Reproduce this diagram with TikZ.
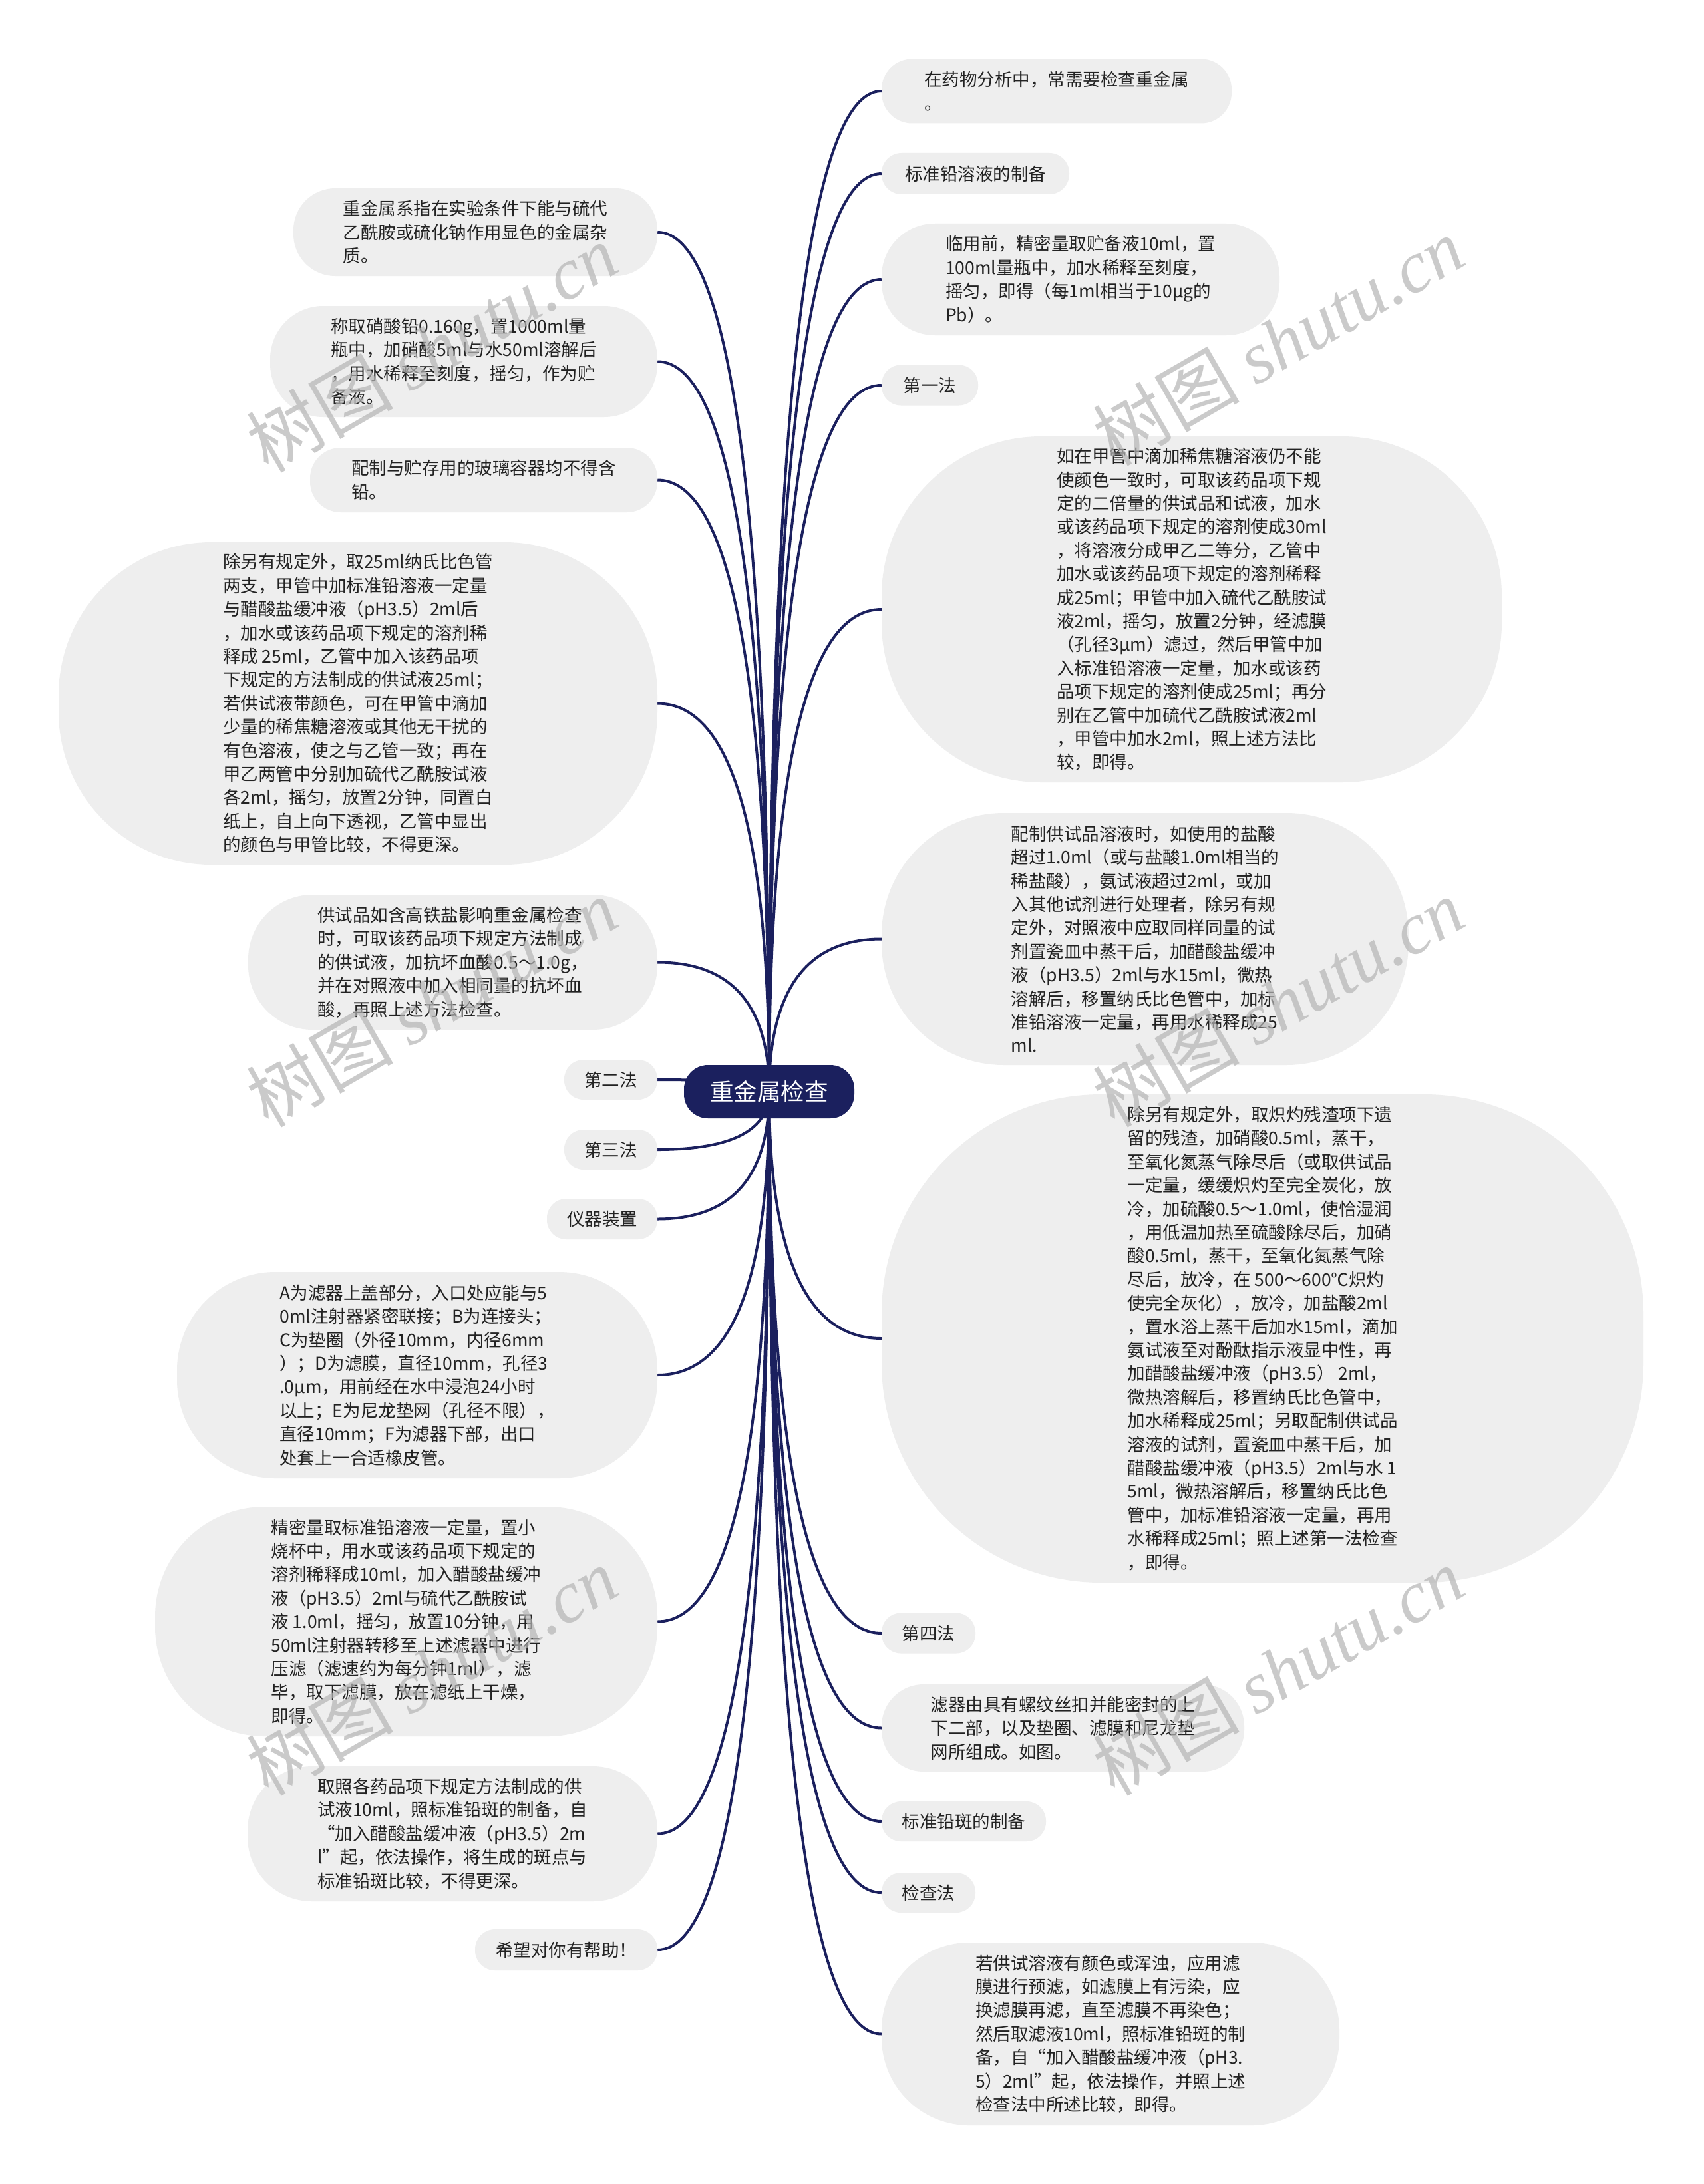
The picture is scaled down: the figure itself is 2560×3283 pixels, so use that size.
\documentclass[tikz,border=0pt]{standalone}
\usepackage{fontspec}
\setmainfont{Noto Sans CJK SC}
\newfontfamily\wmserif{Liberation Serif}
\usetikzlibrary{calc}
\definecolor{navy}{HTML}{1B205E}
\definecolor{nodegray}{HTML}{EEEEEE}
\definecolor{txt}{HTML}{222222}
\definecolor{wmgray}{HTML}{B4B4B4}
\pgfdeclarelayer{bg}
\pgfsetlayers{bg,main}
\tikzset{
 box/.style={fill=nodegray, inner sep=0pt, align=left, text=txt, font=\fontsize{26.5}{35.4}\selectfont},
 rootbox/.style={fill=navy, inner sep=0pt, text=white, font=\fontsize{35.6}{40}\selectfont},
 conn/.style={draw=navy, line width=4pt},
 wm/.style={text=wmgray, opacity=0.7, rotate=30, inner sep=0pt, font=\fontsize{110}{120}\selectfont}
}
\newcommand\mmlink[2]{\draw[conn] (root.center) .. controls ($(root.center)!0.6667!(root.center|-#1.#2)$) and ($(#1.#2)!0.6667!(root.center|-#1.#2)$) .. (#1.#2);}
\begin{document}
\begin{tikzpicture}[x=1pt,y=-1pt]
\begin{pgfonlayer}{bg}
\path[fill=white] (0,0) rectangle (2560,3283);
\end{pgfonlayer}
\useasboundingbox (0,0) rectangle (2560,3283);

% root
\node[rootbox, minimum width=256pt, minimum height=80pt, rounded corners=36pt] (root) at (1156,1641) {重金属检查};

% right side
\node[box, minimum width=526pt, minimum height=97pt, rounded corners=46pt] (n1) at (1588,137) {在药物分析中，常需要检查重金属\\。};
\node[box, minimum width=282pt, minimum height=62pt, rounded corners=30pt] (n2) at (1466,261) {标准铅溶液的制备};
\node[box, minimum width=598pt, minimum height=168pt, rounded corners=80pt] (n3) at (1624,420) {临用前，精密量取贮备液10ml，置\\100ml量瓶中，加水稀释至刻度，\\摇匀，即得（每1ml相当于10μg的\\Pb）。};
\node[box, minimum width=145pt, minimum height=61pt, rounded corners=29pt] (n4) at (1397.5,579) {第一法};
\node[box, minimum width=932pt, minimum height=520pt, rounded corners=240pt] (n5) at (1791,916) {如在甲管中滴加稀焦糖溶液仍不能\\使颜色一致时，可取该药品项下规\\定的二倍量的供试品和试液，加水\\或该药品项下规定的溶剂使成30ml\\，将溶液分成甲乙二等分，乙管中\\加水或该药品项下规定的溶剂稀释\\成25ml；甲管中加入硫代乙酰胺试\\液2ml，摇匀，放置2分钟，经滤膜\\（孔径3μm）滤过，然后甲管中加\\入标准铅溶液一定量，加水或该药\\品项下规定的溶剂使成25ml；再分\\别在乙管中加硫代乙酰胺试液2ml\\，甲管中加水2ml，照上述方法比\\较，即得。};
\node[box, minimum width=792pt, minimum height=379pt, rounded corners=184pt] (n6) at (1721,1411.5) {配制供试品溶液时，如使用的盐酸\\超过1.0ml（或与盐酸1.0ml相当的\\稀盐酸），氨试液超过2ml，或加\\入其他试剂进行处理者，除另有规\\定外，对照液中应取同样同量的试\\剂置瓷皿中蒸干后，加醋酸盐缓冲\\液（pH3.5）2ml与水15ml，微热\\溶解后，移置纳氏比色管中，加标\\准铅溶液一定量，再用水稀释成25\\ml.};
\node[box, minimum width=1145pt, minimum height=734pt, rounded corners=330pt] (n7) at (1897.5,2012) {除另有规定外，取炽灼残渣项下遗\\留的残渣，加硝酸0.5ml，蒸干，\\至氧化氮蒸气除尽后（或取供试品\\一定量，缓缓炽灼至完全炭化，放\\冷，加硫酸0.5～1.0ml，使恰湿润\\，用低温加热至硫酸除尽后，加硝\\酸0.5ml，蒸干，至氧化氮蒸气除\\尽后，放冷，在 500～600℃炽灼\\使完全灰化），放冷，加盐酸2ml\\，置水浴上蒸干后加水15ml，滴加\\氨试液至对酚酞指示液显中性，再\\加醋酸盐缓冲液（pH3.5） 2ml，\\微热溶解后，移置纳氏比色管中，\\加水稀释成25ml；另取配制供试品\\溶液的试剂，置瓷皿中蒸干后，加\\醋酸盐缓冲液（pH3.5）2ml与水 1\\5ml，微热溶解后，移置纳氏比色\\管中，加标准铅溶液一定量，再用\\水稀释成25ml；照上述第一法检查\\，即得。};
\node[box, minimum width=141pt, minimum height=61pt, rounded corners=29pt] (n8) at (1395.5,2455) {第四法};
\node[box, minimum width=545pt, minimum height=131pt, rounded corners=63pt] (n9) at (1597.5,2597.5) {滤器由具有螺纹丝扣并能密封的上\\下二部，以及垫圈、滤膜和尼龙垫\\网所组成。如图。};
\node[box, minimum width=247pt, minimum height=60pt, rounded corners=29pt] (n10) at (1448.5,2738) {标准铅斑的制备};
\node[box, minimum width=141pt, minimum height=60pt, rounded corners=29pt] (n11) at (1395.5,2845) {检查法};
\node[box, minimum width=688pt, minimum height=275pt, rounded corners=132pt] (n12) at (1669,3057.5) {若供试溶液有颜色或浑浊，应用滤\\膜进行预滤，如滤膜上有污染，应\\换滤膜再滤，直至滤膜不再染色；\\然后取滤液10ml，照标准铅斑的制\\备，自“加入醋酸盐缓冲液（pH3.\\5）2ml”起，依法操作，并照上述\\检查法中所述比较，即得。};

% left side
\node[box, minimum width=547pt, minimum height=132pt, rounded corners=63pt] (a) at (714.5,349) {重金属系指在实验条件下能与硫代\\乙酰胺或硫化钠作用显色的金属杂\\质。};
\node[box, minimum width=582pt, minimum height=167pt, rounded corners=80pt] (b) at (697,543.5) {称取硝酸铅0.160g，置1000ml量\\瓶中，加硝酸5ml与水50ml溶解后\\，用水稀释至刻度，摇匀，作为贮\\备液。};
\node[box, minimum width=522pt, minimum height=97pt, rounded corners=46pt] (c) at (727,721.5) {配制与贮存用的玻璃容器均不得含\\铅。};
\node[box, minimum width=900pt, minimum height=485pt, rounded corners=230pt] (d) at (538,1057.5) {除另有规定外，取25ml纳氏比色管\\两支，甲管中加标准铅溶液一定量\\与醋酸盐缓冲液（pH3.5）2ml后\\，加水或该药品项下规定的溶剂稀\\释成 25ml，乙管中加入该药品项\\下规定的方法制成的供试液25ml；\\若供试液带颜色，可在甲管中滴加\\少量的稀焦糖溶液或其他无干扰的\\有色溶液，使之与乙管一致；再在\\甲乙两管中分别加硫代乙酰胺试液\\各2ml，摇匀，放置2分钟，同置白\\纸上，自上向下透视，乙管中显出\\的颜色与甲管比较，不得更深。};
\node[box, minimum width=615pt, minimum height=203pt, rounded corners=97pt] (e) at (680.5,1446.5) {供试品如含高铁盐影响重金属检查\\时，可取该药品项下规定方法制成\\的供试液，加抗坏血酸0.5～1.0g，\\并在对照液中加入相同量的抗坏血\\酸，再照上述方法检查。};
\node[box, minimum width=140pt, minimum height=60pt, rounded corners=29pt] (f) at (918,1623) {第二法};
\node[box, minimum width=140pt, minimum height=60pt, rounded corners=29pt] (g) at (918,1728) {第三法};
\node[box, minimum width=166pt, minimum height=61pt, rounded corners=29pt] (h) at (905,1832.5) {仪器装置};
\node[box, minimum width=722pt, minimum height=310pt, rounded corners=148pt] (i) at (627,2067) {A为滤器上盖部分，入口处应能与5\\0ml注射器紧密联接；B为连接头；\\C为垫圈（外径10mm，内径6mm\\）；D为滤膜，直径10mm，孔径3\\.0μm，用前经在水中浸泡24小时\\以上；E为尼龙垫网（孔径不限），\\直径10mm；F为滤器下部，出口\\处套上一合适橡皮管。};
\node[box, minimum width=755pt, minimum height=345pt, rounded corners=165pt] (j) at (610.5,2437.5) {精密量取标准铅溶液一定量，置小\\烧杯中，用水或该药品项下规定的\\溶剂稀释成10ml，加入醋酸盐缓冲\\液（pH3.5）2ml与硫代乙酰胺试\\液 1.0ml，摇匀，放置10分钟，用\\50ml注射器转移至上述滤器中进行\\压滤（滤速约为每分钟1ml），滤\\毕，取下滤膜，放在滤纸上干燥，\\即得。};
\node[box, minimum width=616pt, minimum height=203pt, rounded corners=97pt] (k) at (680,2756.5) {取照各药品项下规定方法制成的供\\试液10ml，照标准铅斑的制备，自\\“加入醋酸盐缓冲液（pH3.5）2m\\l”起，依法操作，将生成的斑点与\\标准铅斑比较，不得更深。};
\node[box, minimum width=274pt, minimum height=62pt, rounded corners=30pt] (l) at (851,2931) {希望对你有帮助！};

% connectors
\begin{pgfonlayer}{bg}
\foreach \t in {n1,n2,n3,n4,n5,n6,n7,n8,n9,n10,n11,n12} {\mmlink{\t}{west}}
\foreach \t in {a,b,c,d,e,f,g,h,i,j,k,l} {\mmlink{\t}{east}}
\end{pgfonlayer}

% watermark
\node[wm] (wm1) at (649,523) {树图 {\wmserif\itshape shutu.cn}};
\node[wm] (wm2) at (1921,513) {树图 {\wmserif\itshape shutu.cn}};
\node[wm] (wm3) at (649,1507) {树图 {\wmserif\itshape shutu.cn}};
\node[wm] (wm4) at (1921,1507) {树图 {\wmserif\itshape shutu.cn}};
\node[wm] (wm5) at (649,2512) {树图 {\wmserif\itshape shutu.cn}};
\node[wm] (wm6) at (1921,2512) {树图 {\wmserif\itshape shutu.cn}};
\end{tikzpicture}
\end{document}
